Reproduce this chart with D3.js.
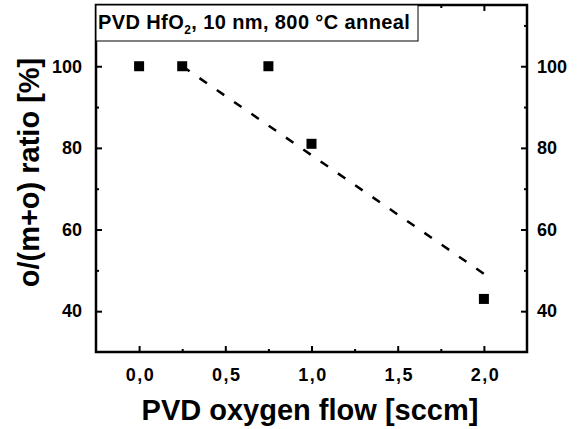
<!DOCTYPE html>
<html><head><meta charset="utf-8">
<script src="https://cdn.jsdelivr.net/npm/d3@7"></script>
<style>body{margin:0;background:#fff}svg text{font-family:"Liberation Sans",Arial,Helvetica,sans-serif;font-weight:bold}</style>
</head><body><svg id="c" width="579" height="429"></svg>
<script>
const flow = [0, 0.25, 0.75, 1.0, 2.0];
const ratio = [100, 100, 100, 81, 43];
const fitX = [0.25, 2.04];
const fitY = [100, 48];
const xTicks = [0, 0.5, 1.0, 1.5, 2.0];
const yTicks = [40, 60, 80, 100];
const titleText = "PVD HfO";
const xLabel = "PVD oxygen flow [sccm]";
const yLabel = "o/(m+o) ratio [%]";

const svg = d3.select("#c");
const L = 96, R = 527, T = 5, B = 352;
const x = d3.scaleLinear().domain([-0.25, 2.25]).range([L, R]);
const y = d3.scaleLinear().domain([30, 115]).range([B, T]);
const fmt = d => d3.format(".1f")(d).replace(".", ",");

function styleAxis(g, fs) {
  g.select(".domain").remove();
  g.selectAll("line").attr("stroke", "#000").attr("stroke-width", 2);
  g.selectAll("text").attr("font-size", fs).attr("fill", "#000");
}
const minorX = [0.25, 0.75, 1.25, 1.75];
const minorY = [50, 70, 90, 110];

// bottom
svg.append("g").attr("transform", `translate(0,${B})`)
  .call(d3.axisBottom(x).tickValues(xTicks).tickFormat(fmt).tickSizeInner(-6).tickPadding(16))
  .call(g => styleAxis(g, 18))
  .call(g => g.selectAll("text").attr("letter-spacing", 1.5).attr("dx", 1));
svg.append("g").attr("transform", `translate(0,${B})`)
  .call(d3.axisBottom(x).tickValues(minorX).tickFormat("").tickSizeInner(-3))
  .call(g => styleAxis(g, 18));
// top
svg.append("g").attr("transform", `translate(0,${T})`)
  .call(d3.axisTop(x).tickValues(xTicks).tickFormat("").tickSizeInner(-6))
  .call(g => styleAxis(g, 18));
svg.append("g").attr("transform", `translate(0,${T})`)
  .call(d3.axisTop(x).tickValues(minorX).tickFormat("").tickSizeInner(-3))
  .call(g => styleAxis(g, 18));
// left
svg.append("g").attr("transform", `translate(${L},0)`)
  .call(d3.axisLeft(y).tickValues(yTicks).tickFormat(d3.format("d")).tickSizeInner(-6).tickPadding(14))
  .call(g => styleAxis(g, 18));
svg.append("g").attr("transform", `translate(${L},0)`)
  .call(d3.axisLeft(y).tickValues(minorY).tickFormat("").tickSizeInner(-3))
  .call(g => styleAxis(g, 18));
// right
svg.append("g").attr("transform", `translate(${R},0)`)
  .call(d3.axisRight(y).tickValues(yTicks).tickFormat(d3.format("d")).tickSizeInner(-6).tickPadding(10))
  .call(g => styleAxis(g, 18));
svg.append("g").attr("transform", `translate(${R},0)`)
  .call(d3.axisRight(y).tickValues(minorY).tickFormat("").tickSizeInner(-3))
  .call(g => styleAxis(g, 18));

// frame
svg.append("rect").attr("x", L).attr("y", T).attr("width", R - L).attr("height", B - T)
  .attr("fill", "none").attr("stroke", "#000").attr("stroke-width", 2.5);

// title box
svg.append("rect").attr("x", L).attr("y", T).attr("width", 322).attr("height", 36)
  .attr("fill", "#fff").attr("stroke", "#000").attr("stroke-width", 1);
const tt = svg.append("text").attr("x", 98).attr("y", 28.5).attr("font-size", 20)
  .attr("letter-spacing", 0.4).attr("fill", "#000");
tt.append("tspan").text(titleText);
tt.append("tspan").attr("dy", 5).attr("font-size", 12).text("2");
tt.append("tspan").attr("dy", -5).text(", 10 nm, 800 °C anneal");

// fit line
const line = d3.line().x(d => x(d)).y((d, i) => y(fitY[i]));
svg.append("path").datum(fitX).attr("d", line).attr("fill", "none").attr("stroke", "#000")
  .attr("stroke-width", 2.5).attr("stroke-dasharray", "9,12");

// markers
svg.selectAll("rect.pt").data(flow).enter().append("rect").attr("class", "pt")
  .attr("x", d => x(d) - 5).attr("y", (d, i) => y(ratio[i]) - 5)
  .attr("width", 10).attr("height", 10).attr("fill", "#000");

// axis labels
svg.append("text").attr("x", 310).attr("y", 420).attr("text-anchor", "middle")
  .attr("font-size", 29).attr("fill", "#000").text(xLabel);
svg.append("text").attr("transform", `translate(39,172.5) rotate(-90)`)
  .attr("text-anchor", "middle").attr("font-size", 29).attr("fill", "#000").text(yLabel);
</script></body></html>
